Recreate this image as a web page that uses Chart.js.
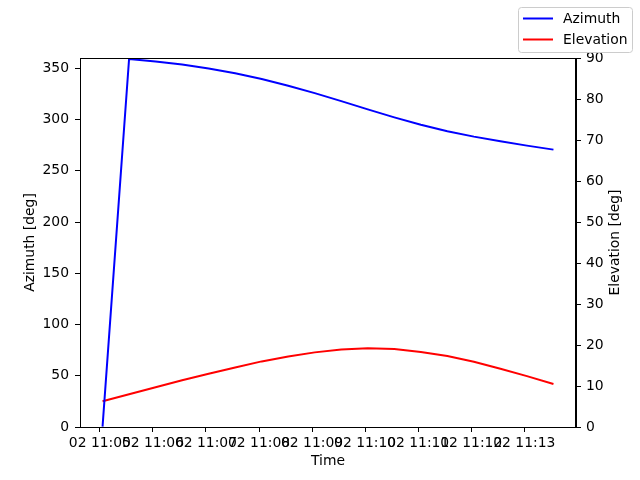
<!DOCTYPE html>
<html>
<head>
<meta charset="utf-8">
<script src="https://cdn.jsdelivr.net/npm/chart.js@4.4.1/dist/chart.umd.min.js"></script>
<style>
  html, body { margin: 0; padding: 0; background: #fff; }
  #caja { width: 640px; height: 480px; }
</style>
</head>
<body>
<div id="caja"><canvas id="graficaPaso" width="640" height="480"></canvas></div>
<script>
// Datos del paso (una muestra cada 30 s)
const dia = '02';
const tiempos = ['11:05:03', '11:05:33', '11:06:03', '11:06:33', '11:07:03', '11:07:33',
                 '11:08:03', '11:08:33', '11:09:03', '11:09:33', '11:10:03', '11:10:33',
                 '11:11:03', '11:11:33', '11:12:03', '11:12:33', '11:13:03', '11:13:33'];
const azimut = [0.4, 359.0, 356.6, 353.6, 349.8, 345.1, 339.5, 333.0, 325.7, 317.9,
                309.9, 302.1, 294.9, 288.5, 283.3, 278.7, 274.5, 270.6];
const elevacion = [6.3, 8.0, 9.7, 11.4, 13.0, 14.5, 16.0, 17.2, 18.2, 18.9,
                   19.2, 19.0, 18.3, 17.3, 15.9, 14.2, 12.4, 10.5];
const ticksTiempo = ['11:05', '11:06', '11:07', '11:08', '11:09', '11:10', '11:11', '11:12', '11:13'];
const ticksAzimut = [0, 50, 100, 150, 200, 250, 300, 350];
const ticksElevacion = [0, 10, 20, 30, 40, 50, 60, 70, 80, 90];

// Pasa "hh:mm[:ss]" a minutos del dia
const aMinutos = (t) => {
    const p = t.split(':').map(Number);
    return p[0] * 60 + p[1] + (p[2] || 0) / 60;
};
const aTexto = (v) => {
    const h = Math.floor(Math.round(v) / 60);
    const m = Math.round(v) % 60;
    return dia + ' ' + String(h).padStart(2, '0') + ':' + String(m).padStart(2, '0');
};

const xs = tiempos.map(aMinutos);
const margen = (xs[xs.length - 1] - xs[0]) * 0.05; // margen como matplotlib
const fuente = { family: 'DejaVu Sans', size: 13.9 };

// Marco superior, etiqueta del eje derecho y leyenda
const marco = {
    id: 'marco',
    afterDraw(chart) {
        const { ctx, chartArea: a } = chart;
        ctx.save();
        ctx.strokeStyle = '#000';
        ctx.lineWidth = 1;
        ctx.strokeRect(a.left + 0.5, a.top + 0.5, a.right - a.left - 1, a.bottom - a.top);

        ctx.font = '13.9px "DejaVu Sans"';
        ctx.fillStyle = '#000';
        ctx.save();
        ctx.translate(615, (a.top + a.bottom) / 2);
        ctx.rotate(-Math.PI / 2);
        ctx.textAlign = 'center';
        ctx.textBaseline = 'middle';
        ctx.fillText('Elevation [deg]', 0, 0);
        ctx.restore();

        ctx.beginPath();
        ctx.roundRect(518.5, 7.5, 114, 45, 3);
        ctx.fillStyle = 'rgba(255,255,255,0.8)';
        ctx.fill();
        ctx.strokeStyle = '#cccccc';
        ctx.stroke();
        chart.data.datasets.forEach((ds, i) => {
            const y = 18.5 + i * 21;
            ctx.beginPath();
            ctx.moveTo(523, y);
            ctx.lineTo(553, y);
            ctx.strokeStyle = ds.borderColor;
            ctx.lineWidth = 2;
            ctx.stroke();
            ctx.fillStyle = '#000';
            ctx.textAlign = 'left';
            ctx.textBaseline = 'middle';
            ctx.fillText(ds.label, 563, y + 1);
        });
        ctx.restore();
    }
};

new Chart(document.getElementById('graficaPaso'), {
    type: 'line',
    data: {
        datasets: [{
            label: 'Azimuth',
            data: xs.map((x, i) => ({ x: x, y: azimut[i] })),
            borderColor: '#0000ff',
            borderWidth: 2,
            pointRadius: 0,
            tension: 0,
            yAxisID: 'y'
        }, {
            label: 'Elevation',
            data: xs.map((x, i) => ({ x: x, y: elevacion[i] })),
            borderColor: '#ff0000',
            borderWidth: 2,
            pointRadius: 0,
            tension: 0,
            yAxisID: 'y1'
        }]
    },
    options: {
        responsive: false,
        animation: false,
        layout: { padding: { top: 58 } },
        plugins: { legend: { display: false }, tooltip: { enabled: false } },
        scales: {
            x: {
                type: 'linear',
                min: xs[0] - margen,
                max: xs[xs.length - 1] + margen,
                afterBuildTicks: (s) => { s.ticks = ticksTiempo.map(t => ({ value: aMinutos(t) })); },
                afterFit: (s) => { s.height = 53; },
                ticks: {
                    autoSkip: false, maxRotation: 0, minRotation: 0, padding: 3,
                    color: '#000', font: fuente,
                    callback: (v) => aTexto(v)
                },
                grid: { drawOnChartArea: false, tickLength: 5, tickColor: '#000' },
                border: { color: '#000', width: 1 },
                title: { display: true, text: 'Time', color: '#000', font: fuente, padding: { top: 0, bottom: 10 } }
            },
            y: {
                position: 'left',
                min: 0,
                max: 360,
                afterBuildTicks: (s) => { s.ticks = ticksAzimut.map(v => ({ value: v })); },
                afterFit: (s) => { s.width = 80; },
                ticks: { color: '#000', font: fuente, padding: 6 },
                grid: { drawOnChartArea: false, tickLength: 5, tickColor: '#000' },
                border: { color: '#000', width: 1 },
                title: { display: true, text: 'Azimuth [deg]', color: '#000', font: fuente, padding: { top: 22, bottom: 0 } }
            },
            y1: {
                position: 'right',
                min: 0,
                max: 90,
                afterBuildTicks: (s) => { s.ticks = ticksElevacion.map(v => ({ value: v })); },
                afterFit: (s) => { s.width = 64; },
                ticks: { color: '#000', font: fuente, padding: 5 },
                grid: { drawOnChartArea: false, tickLength: 5, tickColor: '#000' },
                border: { color: '#000', width: 1 }
            }
        }
    },
    plugins: [marco]
});
</script>
</body>
</html>
